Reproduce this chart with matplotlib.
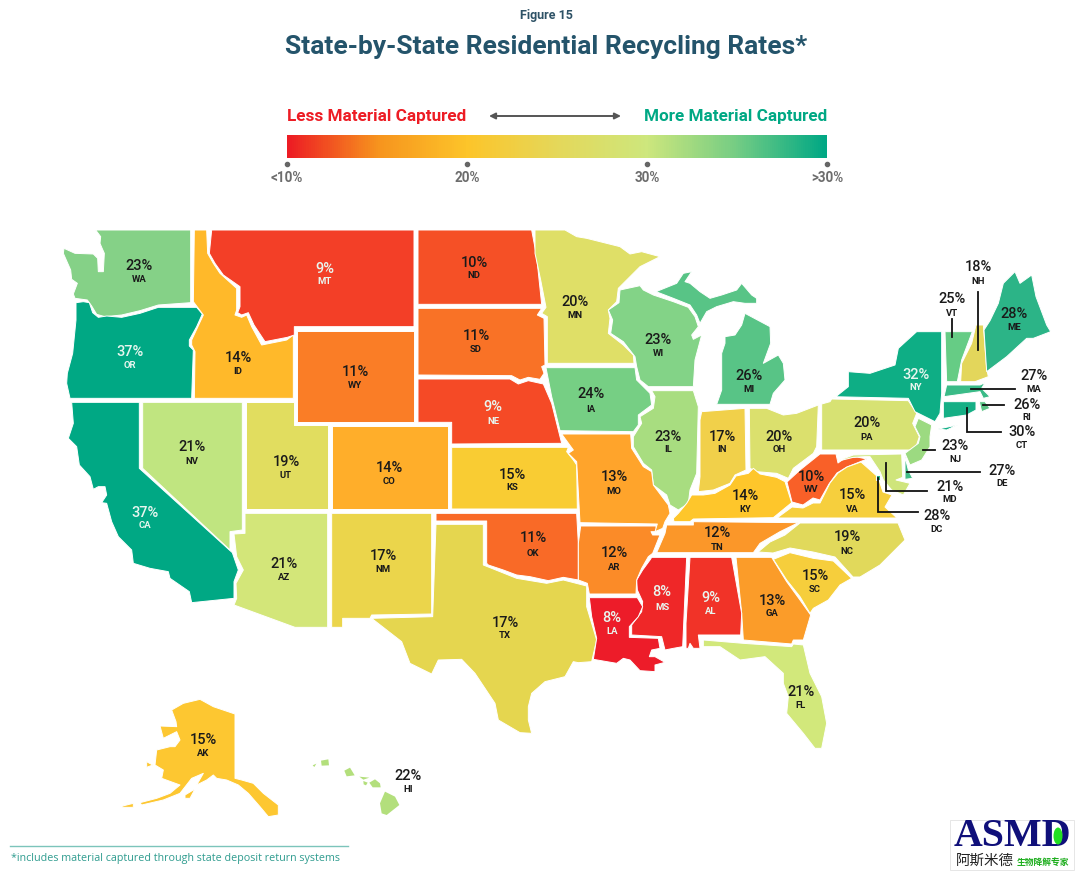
import numpy as np
import matplotlib
matplotlib.use("Agg")
import matplotlib.pyplot as plt
from matplotlib.colors import LinearSegmentedColormap
from matplotlib.patches import Polygon, Rectangle, Ellipse

# ---------- data ----------
STATES = ["WA","OR","CA","ID","MT","WY","NV","UT","CO","AZ","NM","ND","SD","NE","KS","OK","TX",
          "MN","IA","WI","MI","IL","IN","OH","KY","TN","WV","VA","NC","SC","GA","AL","MS","LA",
          "AR","MO","FL","AK","HI","PA","NY","VT","NH","ME","MA","RI","CT","NJ","DE","MD","DC"]
RATES = [23,37,37,14,9,11,21,19,14,21,17,10,11,9,15,11,17,
         20,24,23,26,23,17,20,14,12,10,15,19,15,13,9,8,8,
         12,13,21,15,22,20,32,25,18,28,27,26,30,23,27,21,28]
FILLS = ["#85d187","#00a884","#00a884","#ffb92a","#f33f27","#fa7d26","#c0e580","#e1dd5f","#ffae2a",
         "#d3e679","#ebd54b","#f55026","#f97226","#f54a26","#f9cc33","#f96a27","#e5d64f",
         "#dfdf67","#76cf84","#83d387","#58c486","#a8dd80","#f1d04a","#dbe06d","#fec62b","#fb9729",
         "#f96028","#f6cf3d","#e1d95b","#f6ce3c","#fb9c29","#f13328","#ef2728","#ed1c29",
         "#fb8b28","#ffa42b","#d2e87b","#fdc731","#b3df7c","#d7e273","#0eae85","#66cc85","#e3d65b",
         "#2cb487","#3abb87","#5cc486","#15af85","#9cda81","#42bc87","#cfe57b","#2fb587"]
LIGHT_TEXT = ["OR","CA","MT","NE","LA","MS","AL","NY"]
SCALE_TICKS = ["<10%","20%","30%",">30%"]
SCALE_STOPS = ["#ed1c24","#f7941e","#fdc52a","#e5d85a","#cee77d","#75cd84","#00a884"]

# ---------- outlines (traced in reference pixels) ----------
def trace(ox, oy, s, k=3.0):
    a = np.array([p.split(",") for p in s.split()], dtype=float)
    return np.column_stack([ox + a[:, 0] / k, oy + a[:, 1] / k])

W = (50, 220); C = (420, 220); S = (360, 500); E = (820, 250); A = (0, 690)
SHAPES = {
 "WA":[trace(*W,"137,30 422,30 422,248 325,255 270,272 215,285 165,290 140,283 125,258 112,240 75,235 70,222 82,190 65,178 62,150 40,100 42,85 75,100 130,102 143,115 145,155 160,155 163,100 155,82 150,70 152,50")],
 "OR":[trace(*W,"78,248 100,245 118,248 128,278 145,292 170,288 215,292 270,280 325,262 440,262 457,282 440,320 418,360 418,378 430,390 425,535 60,535 50,490 52,460 68,400 78,300")],
 "ID":[trace(*W,"433,30 470,30 473,100 490,130 510,160 560,205 560,270 555,285 575,292 590,285 605,320 635,375 710,360 730,345 730,535 433,535 435,395 425,375 425,360 460,285 430,245")],
 "MT":[trace(*W,"485,30 1092,30 1092,320 733,320 733,345 712,352 645,365 612,315 595,278 575,285 563,278 570,260 570,200 520,165 495,130 478,100")],
 "WY":[trace(*W,"740,332 1092,332 1092,605 740,605")],
 "CA":[trace(*W,"65,547 268,547 268,745 547,998 565,1050 552,1085 552,1135 425,1148 418,1115 360,1075 355,1055 300,1045 250,1030 245,990 205,950 185,905 170,850 155,848 170,825 165,800 145,800 130,808 120,770 88,735 80,680 55,655 70,610")],
 "NV":[trace(*W,"278,547 577,547 577,930 540,935 540,990 278,745")],
 "UT":[trace(*W,"588,547 732,547 732,615 833,615 833,867 588,867")],
 "CO":[trace(*W,"845,618 1193,618 1193,867 845,867")],
 "AZ":[trace(*W,"585,880 833,880 833,1222 735,1222 552,1155 560,1135 558,1090 580,1050 560,1010 552,942 585,940")],
 "NM":[trace(*W,"845,880 1145,880 1145,1182 965,1185 960,1195 878,1195 878,1222 845,1222")],
 "ND":[trace(*C,"-6,30 335,30 350,110 365,253 -6,253")],
 "SD":[trace(*C,"-6,265 365,265 352,285 372,295 375,435 365,440 372,460 360,478 325,472 300,480 275,467 -6,465")],
 "NE":[trace(*C,"-6,477 270,477 295,492 325,482 370,492 395,550 410,610 425,670 95,672 95,607 -6,607")],
 "KS":[trace(*C,"95,682 445,682 440,695 460,720 470,735 472,867 95,867")],
 "MN":[trace(*C,"345,30 435,30 470,50 500,55 560,70 600,80 630,102 665,95 720,110 660,140 620,180 595,205 590,245 565,270 570,295 565,340 610,375 640,405 642,430 382,430 382,290 365,280 378,262 362,180 345,100")],
 "IA":[trace(*C,"378,443 645,443 650,480 690,520 695,555 655,585 655,615 640,635 420,632 405,570 395,530")],
 "WI":[trace(*C,"600,210 660,197 670,210 700,225 760,245 805,262 825,290 835,320 815,345 820,358 845,345 825,420 820,500 685,500 660,480 650,440 645,410 610,365 572,340 578,300 565,270 597,248")],
 "MI":[trace(*C,"708,215 770,190 790,160 815,155 795,185 810,190 840,215 870,235 905,225 950,210 965,190 995,225 1010,235 1010,250 975,250 940,245 890,260 860,275 840,310 830,285 810,255 760,235"),
       trace(*C,"890,553 905,510 905,400 915,370 915,350 945,345 965,315 975,280 1050,320 1052,370 1030,430 1075,405 1090,430 1095,480 1060,520 1050,553")],
 "IL":[trace(*C,"695,512 820,512 835,560 830,760 810,810 805,850 775,870 750,855 740,825 700,795 695,750 670,730 640,680 640,650 665,610 660,590 700,565 705,530")],
 "IN":[trace(*C,"845,575 975,565 978,750 945,765 930,790 880,810 835,815 840,770 840,600")],
 "OH":[trace(*C,"988,565 1040,565 1090,585 1130,580 1195,555 1190,680 1180,700 1120,745 1105,775 1070,760 1010,755 990,745")],
 "KY":[trace(*C,"760,895 775,880 800,850 815,825 850,825 885,820 930,795 948,768 985,760 1000,745 1020,762 1070,772 1095,785 1115,848 1060,893 820,897 810,905 762,905")],
 "MO":[trace(*C,"425,642 632,642 635,685 670,740 695,755 700,795 745,855 750,880 735,905 728,925 705,935 712,912 480,908 470,725 445,700 460,690")],
 "WV":[np.array([[787,482],[800,470],[820,454],[836,454],[838,463],[845,458],[857,457],[867,459],[847,467],[837,473],[829,484],[820,500],[813,498],[803,505],[792,502]],float)],
 "VA":[np.array([[777,518],[792,507],[803,508],[813,503],[820,503],[830,483],[838,473],[847,467],[861,462],[878,477],[883,492],[892,495],[885,507],[897,518]],float)],
 "NC":[np.array([[758,552],[773,553],[790,548],[813,552],[835,557],[853,577],[860,577],[880,565],[895,550],[905,540],[898,523],[800,523],[785,535],[770,542]],float)],
 "TN":[trace(*S,"920,75 1000,75 1000,65 1315,68 1260,95 1200,130 1180,158 890,158 915,100")],
 "SC":[trace(*S,"1240,178 1290,158 1360,175 1420,183 1475,235 1440,255 1405,300 1360,325 1350,340 1320,290 1280,240")],
 "GA":[trace(*S,"1128,172 1235,172 1280,245 1320,300 1352,345 1330,420 1300,420 1295,432 1150,420 1145,340")],
 "AL":[trace(*S,"990,172 1115,172 1145,340 1142,405 1015,405 1020,445 1000,445 990,430 985,445 978,445 978,370")],
 "MS":[trace(*S,"875,172 980,172 968,440 940,445 915,450 905,410 815,405 815,375 845,335 848,305 832,270 830,240 848,210 870,180")],
 "LA":[trace(*S,"688,293 832,293 848,320 835,350 808,380 808,412 895,415 900,445 875,450 868,470 885,470 915,487 885,495 885,515 840,512 810,480 790,475 770,490 700,478 710,415 695,350")],
 "AR":[trace(*S,"662,78 888,78 890,95 873,95 878,105 900,105 878,160 865,170 845,205 830,240 828,282 688,282 682,250 655,240 655,130")],
 "OK":[trace(*S,"228,40 650,40 655,130 655,240 610,232 565,242 510,230 470,225 430,210 385,195 380,190 380,63 228,63")],
 "TX":[trace(*S,"228,73 370,73 370,195 420,215 470,235 560,250 610,240 680,258 680,320 710,420 695,485 655,488 640,485 615,530 555,545 515,580 505,620 505,660 515,700 480,698 415,660 405,610 345,520 305,478 235,480 215,522 150,490 125,425 35,355 218,350")],
 "FL":[trace(*S,"1030,420 1150,430 1295,440 1300,432 1330,435 1350,520 1385,590 1400,670 1385,745 1365,745 1330,700 1280,640 1285,590 1270,550 1270,520 1215,470 1140,480 1080,440 1030,440")],
 "PA":[trace(*E,"5,462 30,455 35,447 265,452 290,490 278,520 298,560 285,600 5,600")],
 "NY":[trace(*E,"45,442 85,410 85,365 150,370 225,345 235,295 290,245 365,245 365,430 360,490 345,515 285,485 265,445 35,440"),
       trace(*E,"355,537 412,525 380,540")],
 "VT":[trace(*E,"375,245 457,245 425,330 412,395 380,395 378,340")],
 "NH":[trace(*E,"468,225 490,225 500,355 505,380 465,395 422,395 425,340 455,280")],
 "ME":[trace(*E,"510,212 535,160 550,100 585,65 600,100 635,75 648,140 680,225 692,245 640,265 620,265 560,320 500,365 492,240")],
 "MA":[trace(*E,"380,405 480,405 495,398 485,415 510,440 490,445 480,425 372,440")],
 "RI":[trace(*E,"478,455 495,455 510,475 485,485")],
 "CT":[trace(*E,"370,455 468,455 468,480 440,495 370,505")],
 "NJ":[trace(*E,"295,505 335,525 330,560 330,590 305,630 270,645 255,610 295,580 300,560 285,530")],
 "DE":[trace(*E,"255,620 265,660 278,685 255,688")],
 "MD":[trace(*E,"60,630 100,615 245,612 248,682 228,690 270,700 250,735 215,720 190,690 180,665 150,620 135,620 100,622 60,632")],
 "DC":[trace(*E,"168,675 180,675 180,690 168,690")],
 "AK":[trace(*A,"515,60 550,40 600,28 640,50 705,72 705,265 725,270 760,280 790,310 835,345 835,375 805,380 780,350 745,310 715,285 680,270 650,265 640,255 620,270 590,285 610,250 575,265 540,310 490,330 425,345 420,338 470,325 510,310 540,285 485,265 490,240 465,225 470,180 510,170 525,170 540,150 530,125 490,145 480,108 530,110 528,95"),
       trace(*A,"555,315 585,297 570,325 555,325"),
       trace(*A,"360,350 400,340 400,352 370,352"),
       trace(*A,"440,215 458,225 440,232")],
 "HI":[trace(*A,"1155,305 1185,320 1198,345 1160,375 1145,370 1140,340"),
       trace(*A,"1108,278 1125,268 1140,280 1142,292 1118,292"),
       trace(*A,"1078,260 1108,263 1090,269"),
       trace(*A,"1090,273 1103,278 1098,286 1091,283"),
       trace(*A,"1033,242 1050,233 1064,256 1040,259"),
       trace(*A,"963,212 985,208 987,226 965,227"),
       trace(*A,"938,226 949,221 943,231")],
}
NO_EDGE = ["HI"]

# label anchors: (x, percent y, code y)
LABELS = {"WA":(139,266,280),"OR":(130,352,365),"CA":(145,513,526),"ID":(238,358,371),"MT":(325,269,282),
 "WY":(355,372,386),"NV":(192,447,461),"UT":(286,462,476),"CO":(389,468,482),"AZ":(284,564,578),
 "NM":(383,556,570),"ND":(474,263,276),"SD":(476,336,349),"NE":(493,407,421),"KS":(512,475,488),
 "OK":(533,538,553),"TX":(505,623,636),"MN":(575,302,316),"IA":(591,394,409),"WI":(658,340,353),
 "MI":(749,376,390),"IL":(668,437,450),"IN":(722,437,450),"OH":(779,437,450),"KY":(745,496,510),
 "TN":(717,533,547),"WV":(811,477,490),"VA":(852,495,509),"NC":(847,537,552),"SC":(815,576,590),
 "GA":(772,601,614),"AL":(711,598,612),"MS":(662,592,607),"LA":(612,618,632),"AR":(614,553,567),
 "MO":(614,477,491),"FL":(801,692,706),"AK":(203,740,754),"HI":(408,776,789),"PA":(867,423,437),
 "NY":(916,375,388),"VT":(952,299,313),"NH":(978,267,281),"ME":(1014,314,328),"MA":(1034,376,390),
 "RI":(1027,405,418),"CT":(1022,432,446),"NJ":(955,446,460),"DE":(1002,471,484),"MD":(950,487,500),
 "DC":(937,516,530)}
LEADERS = [[(978,292),(978,350)],[(952,319),(952,337)],[(971,389),(1015,389)],[(983,405),(1004,405)],
 [(967,408),(967,432),(1001,432)],[(923,450),(935,450)],[(907,472),(980,472)],
 [(886,463),(886,491),(927,491)],[(878,478),(878,512),(918,512)]]

# ---------- figure ----------
plt.rcParams["font.family"] = ["Roboto", "DejaVu Sans"]
fig = plt.figure(figsize=(10.8, 8.75), dpi=100)
ax = fig.add_axes([0, 0, 1, 1])
ax.set_xlim(0, 1080); ax.set_ylim(875, 0); ax.axis("off")
PX = 0.72

ax.text(546, 15.5, "Figure 15", ha="center", va="center", fontsize=12.5*PX, fontweight="bold", color="#2e5266")
ax.text(546, 47, "State-by-State Residential Recycling Rates*", ha="center", va="center",
        fontsize=26.4*PX, fontweight="bold", color="#24546b")
ax.text(287, 117, "Less Material Captured", ha="left", va="center", fontsize=17.1*PX, fontweight="bold", color="#ed1c24")
ax.text(827, 117, "More Material Captured", ha="right", va="center", fontsize=17.1*PX, fontweight="bold", color="#00a884")
ax.annotate("", xy=(621, 116), xytext=(489, 116),
            arrowprops=dict(arrowstyle="<|-|>", color="#555555", lw=1.4, mutation_scale=9, shrinkA=0, shrinkB=0))

cmap = LinearSegmentedColormap.from_list("scale", SCALE_STOPS)
ax.imshow(np.linspace(0, 1, 540)[None, :], cmap=cmap, extent=(287, 827, 158, 135), aspect="auto", zorder=1)
ax.set_xlim(0, 1080); ax.set_ylim(875, 0)
for lab, x in zip(SCALE_TICKS, np.linspace(287, 827, len(SCALE_TICKS))):
    ax.plot([x], [164], "o", ms=3, color="#666666")
    ax.text(x, 178.5, lab, ha="center", va="center", fontsize=13.5*PX, fontweight="bold", color="#6d6d6d")

for code, fill in zip(STATES, FILLS):
    for pts in SHAPES[code]:
        ax.add_patch(Polygon(pts, closed=True, facecolor=fill,
                             edgecolor="none" if code in NO_EDGE else "white", lw=0.7,
                             joinstyle="round", zorder=2))

for path in LEADERS:
    xs, ys = zip(*path)
    ax.plot(xs, ys, color="#111111", lw=1.3, zorder=3, solid_joinstyle="miter")

for code, rate in zip(STATES, RATES):
    x, y1, y2 = LABELS[code]
    col = "#e8f6ef" if code in LIGHT_TEXT else "#1a1a1a"
    ax.text(x, y1, f"{rate}%", ha="center", va="center", fontsize=14.5*PX, fontweight="medium", color=col, zorder=4)
    ax.text(x, y2, code, ha="center", va="center", fontsize=9.5*PX, fontweight="bold", color=col, zorder=4)

ax.plot([10, 348], [846, 846], color="#7cc4bb", lw=1.0)
ax.text(11, 858, "*includes material captured through state deposit return systems", ha="left", va="center",
        family="Open Sans", fontsize=10.8*PX, color="#2f9c8f")

# logo
ax.add_patch(Rectangle((950, 820), 124, 50, facecolor="white", edgecolor="#e6e6e6", lw=0.7, zorder=5))
ax.text(1012, 836, "ASMD", ha="center", va="center", family="Liberation Serif", fontweight="bold",
        fontsize=40*PX, color="#10107a", zorder=6)
ax.add_patch(Ellipse((1058, 836), 9, 17, facecolor="#22e022", edgecolor="none", zorder=7))
ax.text(985, 861, "阿斯米德", ha="center", va="center", family="Noto Sans CJK SC", fontsize=14.5*PX,
        color="#222222", zorder=6)
ax.text(1043, 862, "生物降解专家", ha="center", va="center", family="Noto Sans CJK SC", fontweight="bold",
        fontsize=8.8*PX, color="#1fae1f", zorder=6)

fig.savefig("out.png", dpi=100)
